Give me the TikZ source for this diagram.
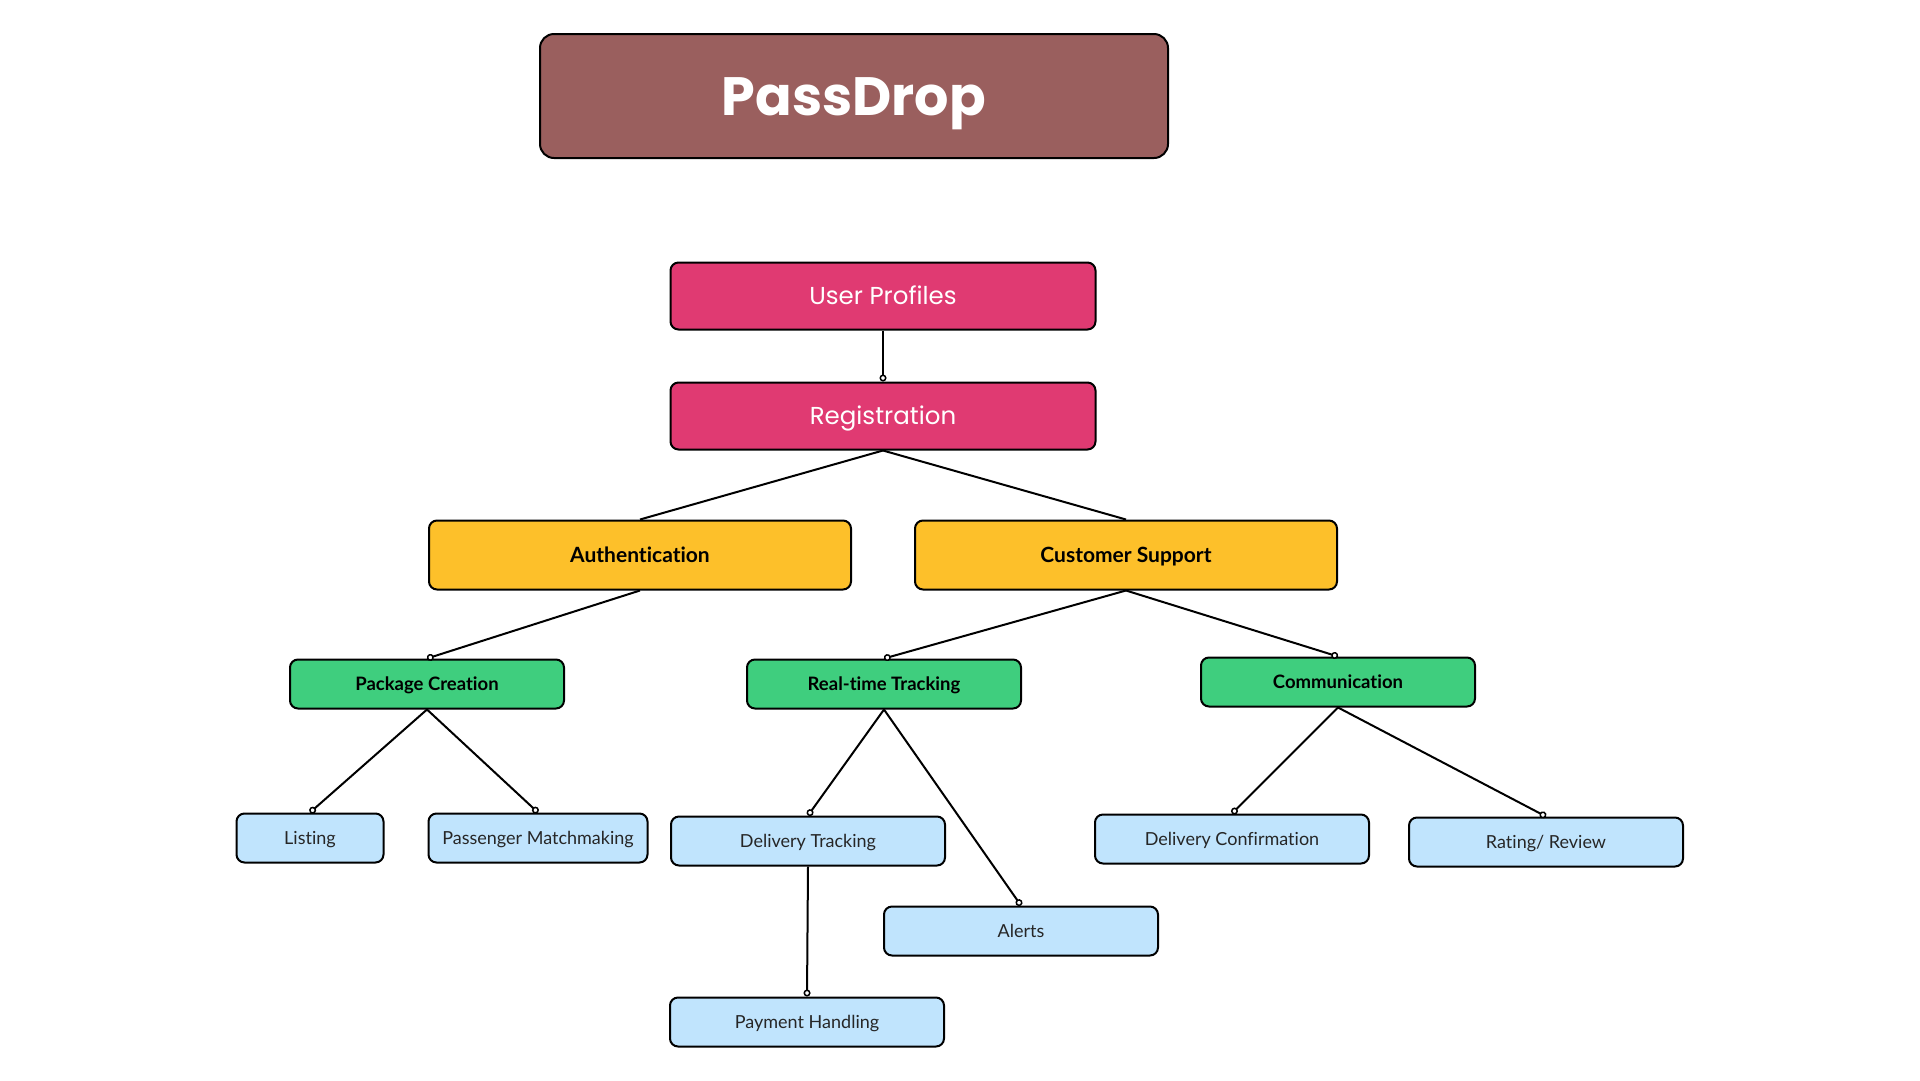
\documentclass[tikz,border=0pt]{standalone}
\usepackage{fontspec}
\setmainfont{Lato}[Ligatures={NoCommon}]
\newfontfamily\headfont{Poppins}
\usetikzlibrary{shapes, arrows.meta, positioning}
\definecolor{titleColor}{HTML}{9A5F5E}
\definecolor{pinkColor}{HTML}{E03A72}
\definecolor{yellowColor}{HTML}{FDC02A}
\definecolor{greenColor}{HTML}{3FCE7E}
\definecolor{blueColor}{HTML}{C0E4FD}
\tikzstyle{title} = [rectangle, rounded corners=14pt,
minimum width=628pt,
minimum height=124pt,
text centered,
text height=38pt, text depth=0pt,
draw=black, line width=2pt,
fill=titleColor, text=white,
font=\headfont\bfseries\fontsize{54}{60}\selectfont]
\tikzstyle{pinkbox} = [rectangle, rounded corners=8pt,
minimum width=425pt,
minimum height=67pt,
text centered,
text height=17pt, text depth=0pt,
draw=black, line width=2pt,
fill=pinkColor, text=white,
font=\headfont\fontsize{24.5}{28}\selectfont]
\tikzstyle{yellowbox} = [rectangle, rounded corners=8pt,
minimum width=422pt,
minimum height=69pt,
text centered,
text height=15pt, text depth=0pt,
draw=black, line width=2pt,
fill=yellowColor,
font=\bfseries\fontsize{21}{25}\selectfont]
\tikzstyle{greenbox} = [rectangle, rounded corners=8pt,
minimum width=274pt,
minimum height=49pt,
text centered,
text height=13pt, text depth=0pt,
draw=black, line width=2pt,
fill=greenColor,
font=\bfseries\fontsize{18.5}{22}\selectfont]
\tikzstyle{bluebox} = [rectangle, rounded corners=8pt,
minimum width=274pt,
minimum height=49pt,
text centered,
text height=13pt, text depth=0pt,
draw=black, line width=2pt,
fill=blueColor, text=black!85,
font=\fontsize{18}{22}\selectfont]
\tikzstyle{link} = [line width=2pt, -{Circle[fill=white, length=7pt, line width=1.5pt]}]
\tikzstyle{plain} = [line width=2pt]

\begin{document}
\begin{tikzpicture}[x=1pt,y=-1pt]
    \fill[white] (0,0) rectangle (1920,1080);
    \useasboundingbox (0,0) rectangle (1920,1080);
    % Nodes
    \node[title] (passdrop) at (854,96) {PassDrop};
    \node[pinkbox] (profiles) at (883,296) {User Profiles};
    \node[pinkbox] (registration) at (883,416) {Registration};
    \node[yellowbox] (auth) at (640,555) {Authentication};
    \node[yellowbox] (support) at (1126,555) {Customer Support};
    \node[greenbox] (package) at (427,684) {Package Creation};
    \node[greenbox] (tracking) at (884,684) {Real-time Tracking};
    \node[greenbox] (communication) at (1338,682) {Communication};
    \node[bluebox, minimum width=147pt] (listing) at (310,838) {Listing};
    \node[bluebox, minimum width=219pt] (matchmaking) at (538,838) {Passenger Matchmaking};
    \node[bluebox] (delivery) at (808,841) {Delivery Tracking};
    \node[bluebox] (alerts) at (1021,931) {Alerts};
    \node[bluebox] (payment) at (807,1022) {Payment Handling};
    \node[bluebox] (confirmation) at (1232,839) {Delivery Confirmation};
    \node[bluebox] (rating) at (1546,842) {Rating/ Review};

    % Arrows
    \draw[link] (profiles) -- (registration.north);
    \draw[plain] (registration.south) -- (auth.north);
    \draw[plain] (registration.south) -- (support.north);
    \draw[link] (auth.south) -- (package.north);
    \draw[link] (support.south) -- (tracking.north);
    \draw[link] (support.south) -- (communication.north);
    \draw[link] (package.south) -- (listing.north);
    \draw[link] (package.south) -- (matchmaking.north);
    \draw[link] (tracking.south) -- (delivery.north);
    \draw[link] (tracking.south) -- (alerts.north);
    \draw[link] (delivery.south) -- (payment.north);
    \draw[link] (communication.south) -- (confirmation.north);
    \draw[link] (communication.south) -- (rating.north);
\end{tikzpicture}
\end{document}
